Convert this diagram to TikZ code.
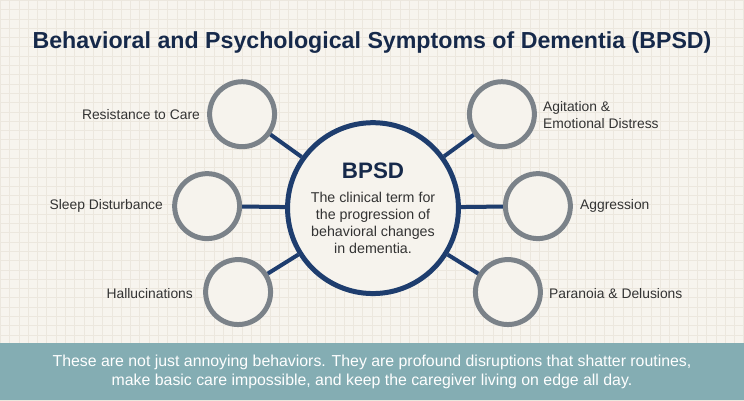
\documentclass[tikz,border=0pt]{standalone}
\usepackage{fontspec}
\setmainfont{Liberation Sans}
\usepackage{tikz}

\begin{document}
\begin{tikzpicture}[x=0.75pt,y=-0.75pt]
			\definecolor{cbg}{HTML}{F7F4EE}
			\definecolor{cgrid}{HTML}{ECE7DE}
			\definecolor{ctitle}{HTML}{16294A}
			\definecolor{cnavy}{HTML}{1E3D6E}
			\definecolor{cring}{HTML}{7B8289}
			\definecolor{cfill}{HTML}{F6F3ED}
			\definecolor{ctext}{HTML}{333333}
			\definecolor{cband}{HTML}{84ADB3}
			\tikzset{
				hub/.style={circle,minimum size=128.25pt,inner sep=0pt,draw=cnavy,line width=3.75pt,fill=cfill},
				sat/.style={circle,minimum size=48.75pt,inner sep=0pt,draw=cring,line width=3.75pt,fill=cfill},
				spoke/.style={draw=cnavy,line width=3pt},
				lbl/.style={inner sep=0pt,text=ctext,font=\fontsize{10.4}{12.8}\selectfont,align=left}
			}
			%
			\fill[cbg] (0,0) rectangle (744,400);
			\draw[cgrid,line width=0.4pt,step=6.975pt] (0,0) grid (744,400);
			\useasboundingbox (0,0) rectangle (744,400);
			%
			\node[text=ctitle,font=\fontsize{17.4}{20}\selectfont\bfseries] (title) at (372,42) {Behavioral and Psychological Symptoms of Dementia (BPSD)};
			%
			\node[hub] (hub) at (373,208) {};
			\node[text=ctitle,font=\fontsize{16.8}{18}\selectfont\bfseries] (hubhead) at (373,171) {BPSD};
			\node[text=ctext,align=center,font=\fontsize{10.7}{12.9}\selectfont] (hubtext) at (373,223) {The clinical term for\\the progression of\\behavioral changes\\in dementia.};
			%
			\node[sat] (lt) at (242,114) {};
			\node[sat] (lm) at (207,206) {};
			\node[sat] (lb) at (238,292) {};
			\node[sat] (rt) at (502,114) {};
			\node[sat] (rm) at (538,206) {};
			\node[sat] (rb) at (508,292) {};
			%
			\draw[spoke] (hub) -- (lt);
			\draw[spoke] (hub) -- (lm);
			\draw[spoke] (hub) -- (lb);
			\draw[spoke] (hub) -- (rt);
			\draw[spoke] (hub) -- (rm);
			\draw[spoke] (hub) -- (rb);
			%
			\node[lbl,anchor=east] (llt) at (200,114) {Resistance to Care};
			\node[lbl,anchor=east] (llm) at (163,206) {Sleep Disturbance};
			\node[lbl,anchor=east] (llb) at (193,293) {Hallucinations};
			\node[lbl,anchor=west] (lrt) at (543,115) {Agitation \&\\Emotional Distress};
			\node[lbl,anchor=west] (lrm) at (580,206) {Aggression};
			\node[lbl,anchor=west] (lrb) at (549,293) {Paranoia \& Delusions};
			%
			\fill[cband] (0,343) rectangle (744,400);
			\node[text=white,align=center,font=\fontsize{11.9}{14.25}\selectfont] (note) at (372,372) {These are not just annoying behaviors. They are profound disruptions that shatter routines,\\make basic care impossible, and keep the caregiver living on edge all day.};
			%
		\end{tikzpicture}
\end{document}
